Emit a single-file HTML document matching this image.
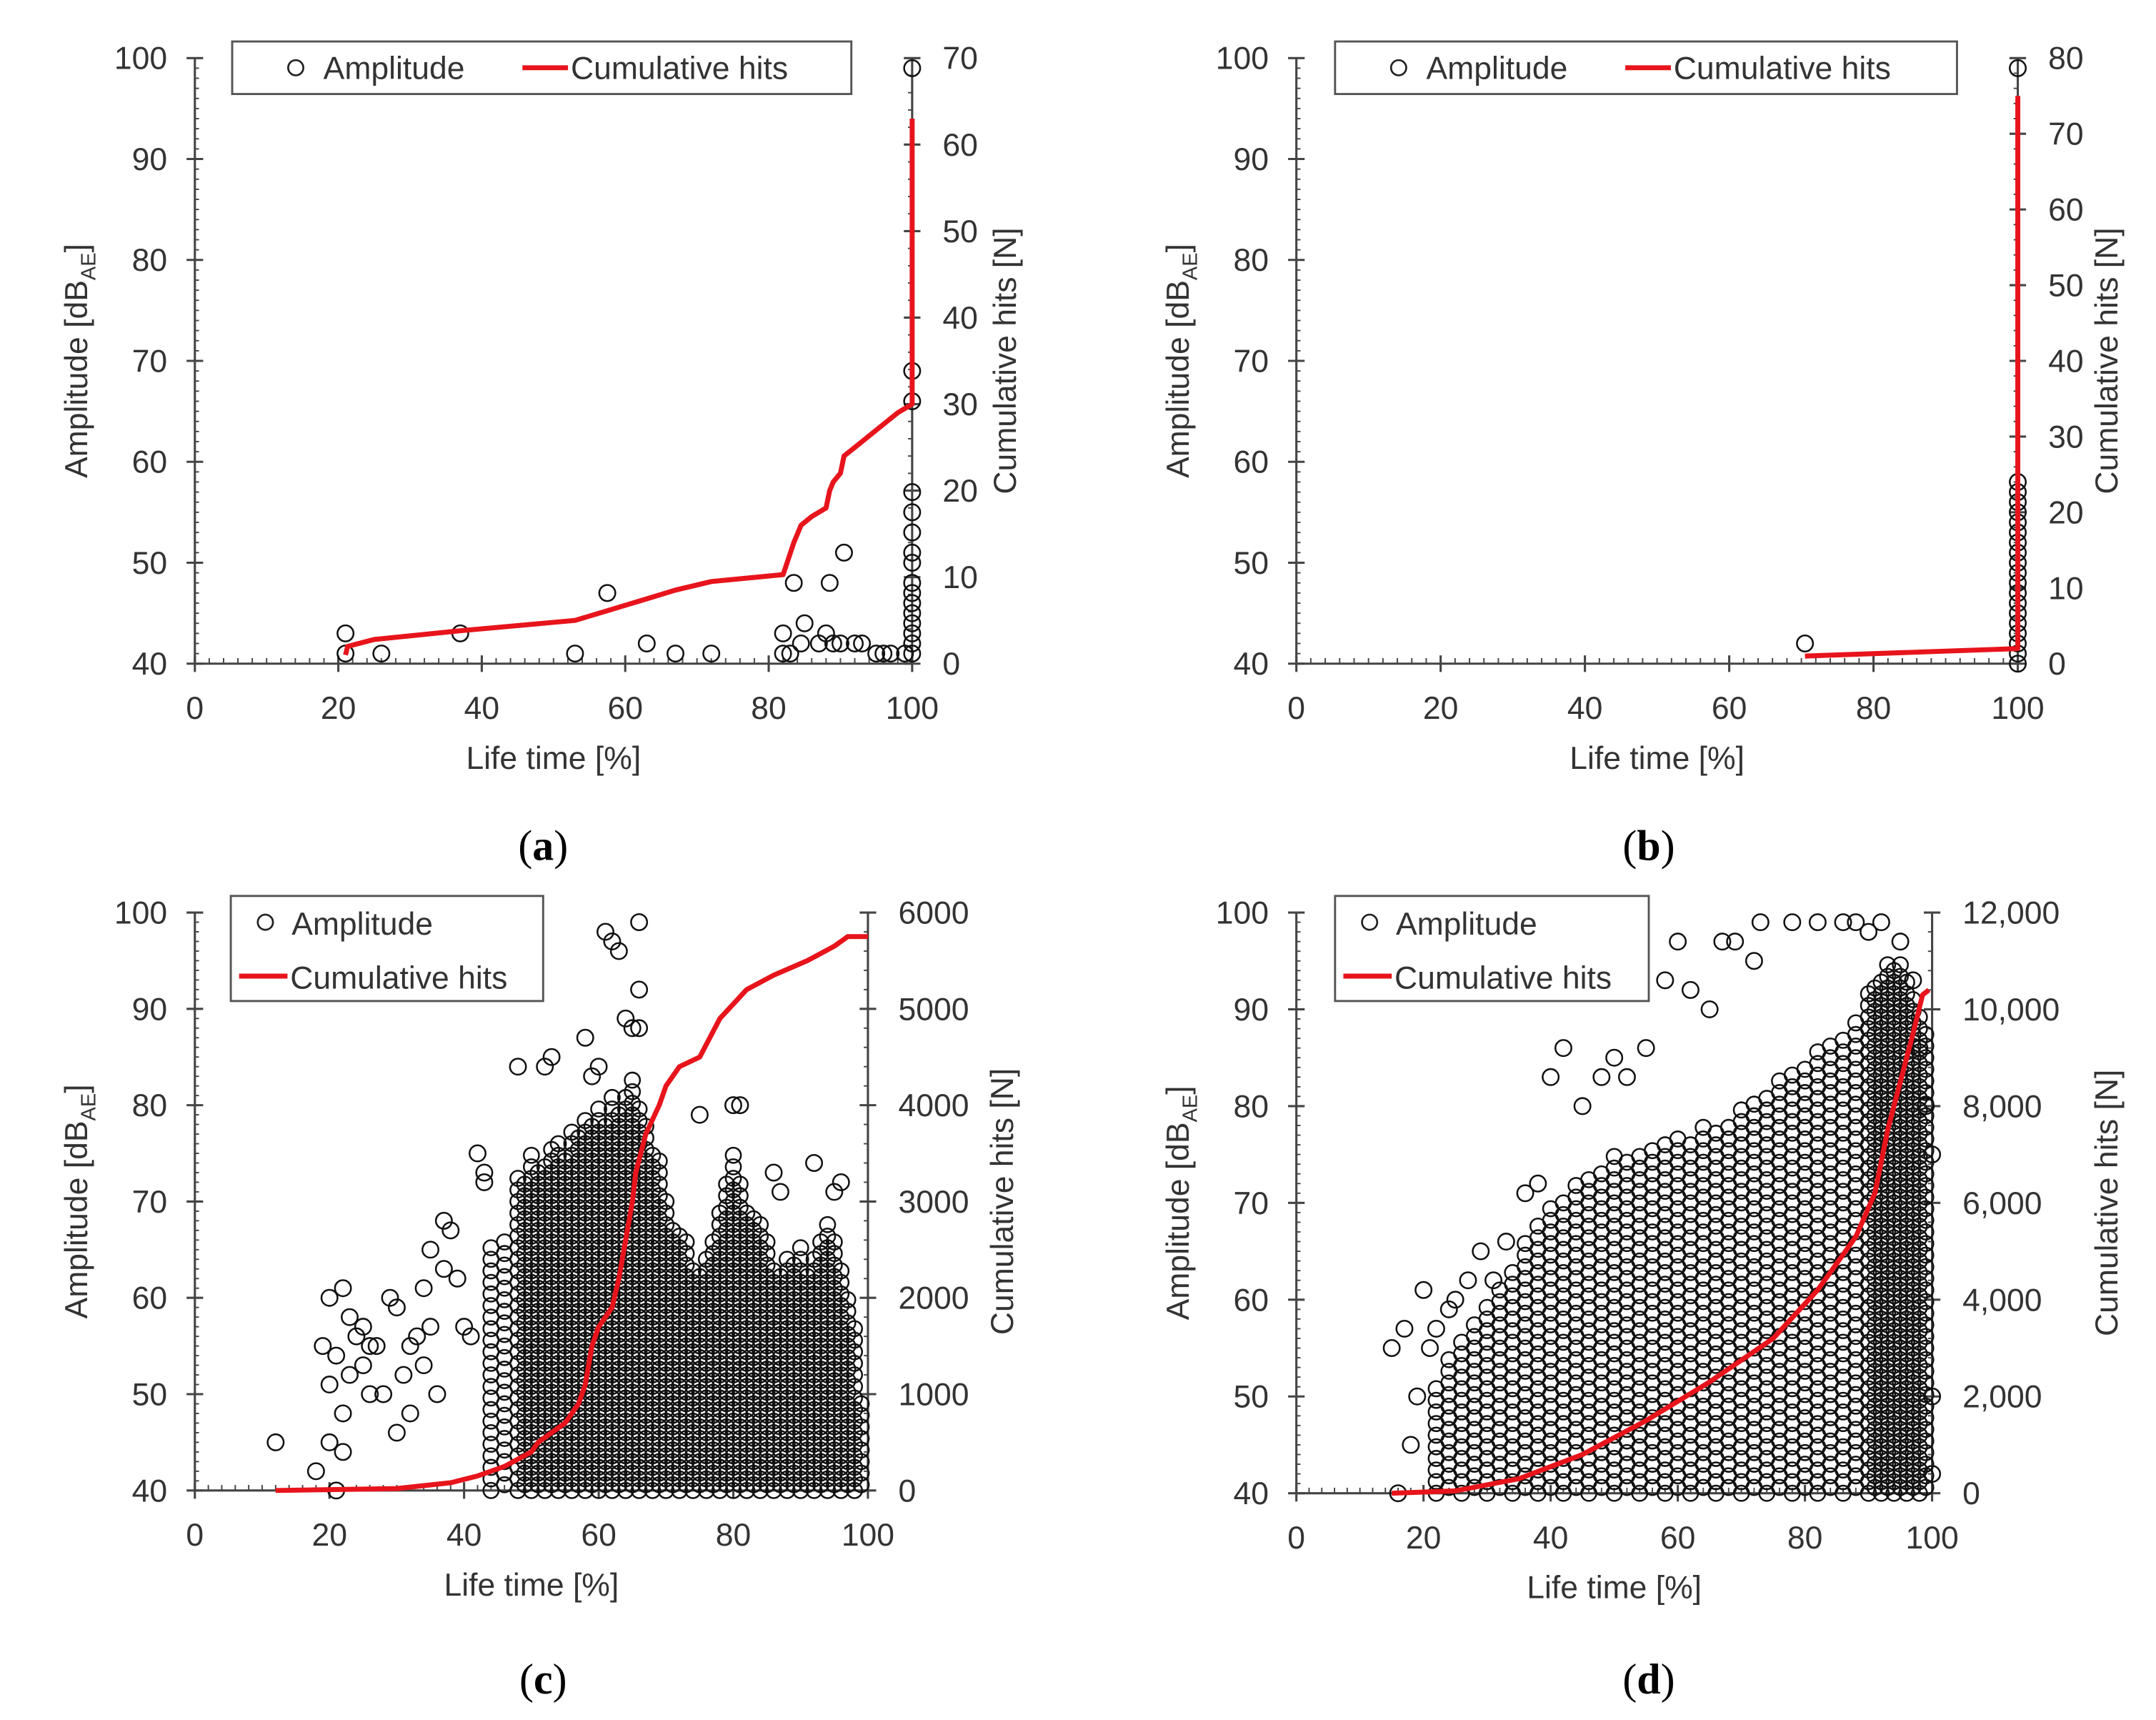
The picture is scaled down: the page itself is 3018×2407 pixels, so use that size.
<!DOCTYPE html>
<html><head><meta charset="utf-8"><style>
html,body{margin:0;padding:0;background:#fff}
svg{display:block}
text{font-family:"Liberation Sans",sans-serif;fill:#333}
</style></head><body>
<svg id="fig" width="3018" height="2407" viewBox="0 0 1560 1244" preserveAspectRatio="none" xmlns="http://www.w3.org/2000/svg"></svg>
<script>
// ---------- DATA ----------
const aAmpX=[21,21,26,37,53,57.5,63,67,72,82,82,83,83.5,84.5,85,87,88,88.5,89,90,90.5,92,93,95,96,97,99,100,100,100,100,100,100,100,100,100,100,100,100,100,100,100,100];
const aAmpY=[43,41,41,43,41,47,42,41,41,43,41,41,48,42,44,42,43,48,42,42,51,42,42,41,41,41,41,99,69,66,57,55,53,51,50,48,47,46,45,44,43,42,41];
const aCumX=[21,21.3,25,37,53,57,63,67,72,82,82.3,83.5,84.5,86,88,88.5,89,90,90.5,92,95,98,100,100,100];
const aCumY=[1,2,2.8,3.8,5,6,7.5,8.5,9.5,10.3,11,14,16,17,18,20,21,22,24,25,27,29,30,35,63];

const bAmpX=[70.5,100,100,100,100,100,100,100,100,100,100,100,100,100,100,100,100,100,100,100,100];
const bAmpY=[42,99,56,55,54,53,52,51,50,49,48,47,46,45,44,43,42,41,40,58,57];
const bCumX=[70.5,100,100];
const bCumY=[1,2,75];

const cAmpX=[12,18,19,20,20,20,21,21,22,22,22,23,23,24,25,25,26,26,27,28,29,30,30,31,32,32,33,34,34,35,35,36,37,37,38,39,40,41,42,43,43,48,52,53,58,59,60,61,62,63,64,65,66,66,66,75,80,81,86,87,92,96,95];
const cAmpY=[45,42,55,60,45,51,40,54,61,48,44,58,52,56,57,53,50,55,55,50,60,46,59,52,55,48,56,61,53,65,57,50,63,68,67,62,57,56,75,72,73,84,84,85,87,83,84,98,97,96,89,88,99,92,88,79,80,80,73,71,74,72,71];
const cBandX=[44,46,48,49,50,51,52,53,54,55,56,57,58,59,60,61,62,63,64,65,66,67,68,69,70,71,72,73,74,75,76,77,78,79,80,81,82,83,84,85,86,87,88,89,90,91,92,93,94,95,96,97,98,99];
const cBandHi=[66,67,73,72,76,74,74,76,77,75,78,77,79,79,80,79,82,80,82,83,80,78,76,75,71,68,67,66,64,63,65,67,70,73,75,72,70,69,68,66,64,63,65,64,66,63,65,66,68,67,64,60,57,50];
const cCumX=[12,30,38,42,46,50,51,53,55,57,58,59,60,62,63,64,65,65.5,67,69,70,72,75,78,82,86,91,95,97,100];
const cCumY=[0,20,80,150,250,400,500,600,700,900,1100,1500,1700,1900,2200,2600,3000,3300,3700,4000,4200,4400,4500,4900,5200,5350,5500,5650,5750,5750];

const dAmpX=[15,16,17,18,19,20,21,22,24,25,27,29,31,33,36,38,40,42,45,48,50,52,55,58,60,62,65,67,69,72,73,78,82,86,88,90,92,95,97,98,99,100,100,100];
const dAmpY=[55,40,57,45,50,61,55,57,59,60,62,65,62,66,71,72,83,86,80,83,85,83,86,93,97,92,90,97,97,95,99,99,99,99,99,98,99,97,93,86,80,75,50,42];
const dBandX=[22,24,26,28,30,32,34,36,38,40,42,44,46,48,50,52,54,56,58,60,62,64,66,68,70,72,74,76,78,80,82,84,86,88,90,91,92,93,94,95,96,97,98,99];
const dBandHi=[52,54,56,58,60,62,64,66,68,70,71,72,73,74,75,75,76,76,77,77,77,78,78,79,80,81,82,83,84,85,86,87,88,89,92,93,94,95,95,95,94,92,90,88];
const dCumX=[15,25,35,45,55,65,75,82,88,91,93,95,97,98.5,99.5];
const dCumY=[0,50,300,800,1500,2300,3200,4200,5300,6200,7500,8500,9500,10300,10400];

const ampTicks=[40,50,60,70,80,90,100];
const xTicks=[0,20,40,60,80,100];
const aRight=[0,10,20,30,40,50,60,70];
const bRight=[0,10,20,30,40,50,60,70,80];
const cRight=[0,1000,2000,3000,4000,5000,6000];
const dRight=[0,2000,4000,6000,8000,10000,12000];
const dRightLabels=["0","2,000","4,000","6,000","8,000","10,000","12,000"];

// ---------- DRAW ----------
const NS="http://www.w3.org/2000/svg";
const svg=document.getElementById('fig');
function mk(tag,attrs,parent){const e=document.createElementNS(NS,tag);for(const k in attrs)e.setAttribute(k,attrs[k]);(parent||svg).appendChild(e);return e;}

function panel(p){
  const g=mk('g',{});
  
  
  const sx=v=>p.x0+(v/100)*(p.x1-p.x0);
  const sy=v=>p.y1-(v-40)/60*(p.y1-p.y0);
  const sr=v=>p.y1-v/p.rmax*(p.y1-p.y0);
  const ax=mk('g',{stroke:'#444','stroke-width':1.6},g);
  
  
  mk('line',{x1:p.x0,y1:p.y0,x2:p.x0,y2:p.y1},ax);
  mk('line',{x1:p.x0,y1:p.y1,x2:p.x1,y2:p.y1},ax);
  mk('line',{x1:p.x1,y1:p.y0,x2:p.x1,y2:p.y1},ax);
  for(let v=40;v<=100;v+=1){const y=sy(v);const maj=v%10===0;mk('line',{x1:p.x0-(maj?6:0),x2:p.x0+(maj?6:3),y1:y,y2:y,'stroke-width':maj?1.6:1},ax);}
  for(let v=0;v<=100;v+=2){const x=sx(v);const maj=v%20===0;mk('line',{x1:x,x2:x,y1:p.y1+(maj?6:0),y2:p.y1-(maj?6:4),'stroke-width':maj?1.6:1},ax);}
  const rn=p.right.length-1, step=p.right[1]-p.right[0];
  for(let i=0;i<=rn*5;i++){const v=i*step/5;const y=sr(v);const maj=i%5===0;mk('line',{x1:p.x1-(maj?6:3),x2:p.x1+(maj?6:0),y1:y,y2:y,'stroke-width':maj?1.6:1},ax);}
  ampTicks.forEach(v=>{const t=mk('text',{x:p.x0-20,y:sy(v)+8,'text-anchor':'end','font-size':23},g);t.textContent=v;
    });
  xTicks.forEach(v=>{const t=mk('text',{x:sx(v),y:p.y1+40,'text-anchor':'middle','font-size':23},g);t.textContent=v;
    });
  p.right.forEach((v,i)=>{const t=mk('text',{x:p.x1+22,y:sr(v)+8,'text-anchor':'start','font-size':23},g);t.textContent=p.rlabels?p.rlabels[i]:v;
    });
  const xt=mk('text',{x:(p.x0+p.x1)/2,y:p.y1+76,'text-anchor':'middle','font-size':23},g);xt.textContent='Life time [%]';
  
  const ym=(p.y0+p.y1)/2;
  const yt=mk('text',{x:p.x0-78,y:ym,'text-anchor':'middle','font-size':23,transform:`rotate(-90 ${p.x0-78} ${ym})`},g);
  yt.innerHTML='Amplitude  [dB<tspan font-size="15" dy="6">AE</tspan><tspan dy="-6">]</tspan>';
  
  const rx=p.rtx;
  const rt=mk('text',{x:rx,y:ym,'text-anchor':'middle','font-size':23,transform:`rotate(-90 ${rx} ${ym})`},g);rt.textContent='Cumulative  hits [N]';
  
  // scatter
  const sc=mk('g',{fill:'none',stroke:'#111','stroke-width':1.3},g);
  
  if(p.bandX){p.bandX.forEach((x,i)=>{const off=(i%2)*0.6;for(let a=40+off;a<=p.bandHi[i];a+=1.2){
    const c=mk('circle',{cx:sx(x+((Math.round(a*10))%3-1)*0.35),cy:sy(a),r:5.5},sc);
    }});}
  p.ax.forEach((x,i)=>{const c=mk('circle',{cx:sx(x),cy:sy(p.ay[i]),r:5.8},sc);
    });
  // cumulative
  const d=p.cx.map((x,i)=>(i?'L':'M')+sx(x).toFixed(1)+','+sr(p.cy[i]).toFixed(1)).join(' ');
  const ln=mk('path',{d:d,fill:'none',stroke:'#e8141c','stroke-width':3.6,'stroke-linejoin':'round'},g);
  
  // legend
  const L=p.leg;
  const lg=mk('g',{},g);
  
  mk('rect',{x:L.x,y:L.y,width:L.w,height:L.h,fill:'#fff',stroke:'#555','stroke-width':1.5},lg);
  if(L.row){
    mk('circle',{cx:L.x+46,cy:L.y+19,r:5.5,fill:'none',stroke:'#222','stroke-width':1.4},lg);
    let t=mk('text',{x:L.x+66,y:L.y+27,'font-size':23},lg);t.textContent='Amplitude';
    mk('line',{x1:L.x+210,x2:L.x+243,y1:L.y+19,y2:L.y+19,stroke:'#e8141c','stroke-width':3.6},lg);
    t=mk('text',{x:L.x+245,y:L.y+27,'font-size':23},lg);t.textContent='Cumulative hits';
  }else{
    mk('circle',{cx:L.x+25,cy:L.y+19,r:5.5,fill:'none',stroke:'#222','stroke-width':1.4},lg);
    let t=mk('text',{x:L.x+44,y:L.y+28,'font-size':23},lg);t.textContent='Amplitude';
    mk('line',{x1:L.x+6,x2:L.x+41,y1:L.y+58,y2:L.y+58,stroke:'#e8141c','stroke-width':3.6},lg);
    t=mk('text',{x:L.x+43,y:L.y+67,'font-size':23},lg);t.textContent='Cumulative hits';
  }
  const cap=mk('text',{x:p.capx,y:p.capy,'text-anchor':'middle','font-size':31,style:'font-family:"Liberation Serif",serif;fill:#000'},g);
  cap.innerHTML='(<tspan font-weight="bold">'+p.id+'</tspan>)';
  
}

panel({id:'a',x0:141,x1:660,y0:42,y1:480,rmax:70,right:aRight,rtx:735,ax:aAmpX,ay:aAmpY,cx:aCumX,cy:aCumY,
  leg:{x:168,y:30,w:448,h:38,row:true},capx:393,capy:622});
panel({id:'b',x0:938,x1:1460,y0:42,y1:480,rmax:80,right:bRight,rtx:1532,ax:bAmpX,ay:bAmpY,cx:bCumX,cy:bCumY,
  leg:{x:966,y:30,w:450,h:38,row:true},capx:1193,capy:622});
panel({id:'c',x0:141,x1:628,y0:660,y1:1078,rmax:6000,right:cRight,rtx:733,ax:cAmpX,ay:cAmpY,cx:cCumX,cy:cCumY,bandX:cBandX,bandHi:cBandHi,
  leg:{x:167,y:648,w:226,h:76,row:false},capx:393,capy:1225});
panel({id:'d',x0:938,x1:1398,y0:660,y1:1080,rmax:12000,right:dRight,rlabels:dRightLabels,rtx:1532,ax:dAmpX,ay:dAmpY,cx:dCumX,cy:dCumY,bandX:dBandX,bandHi:dBandHi,
  leg:{x:966,y:648,w:227,h:76,row:false},capx:1193,capy:1225});
</script>
</body></html>
